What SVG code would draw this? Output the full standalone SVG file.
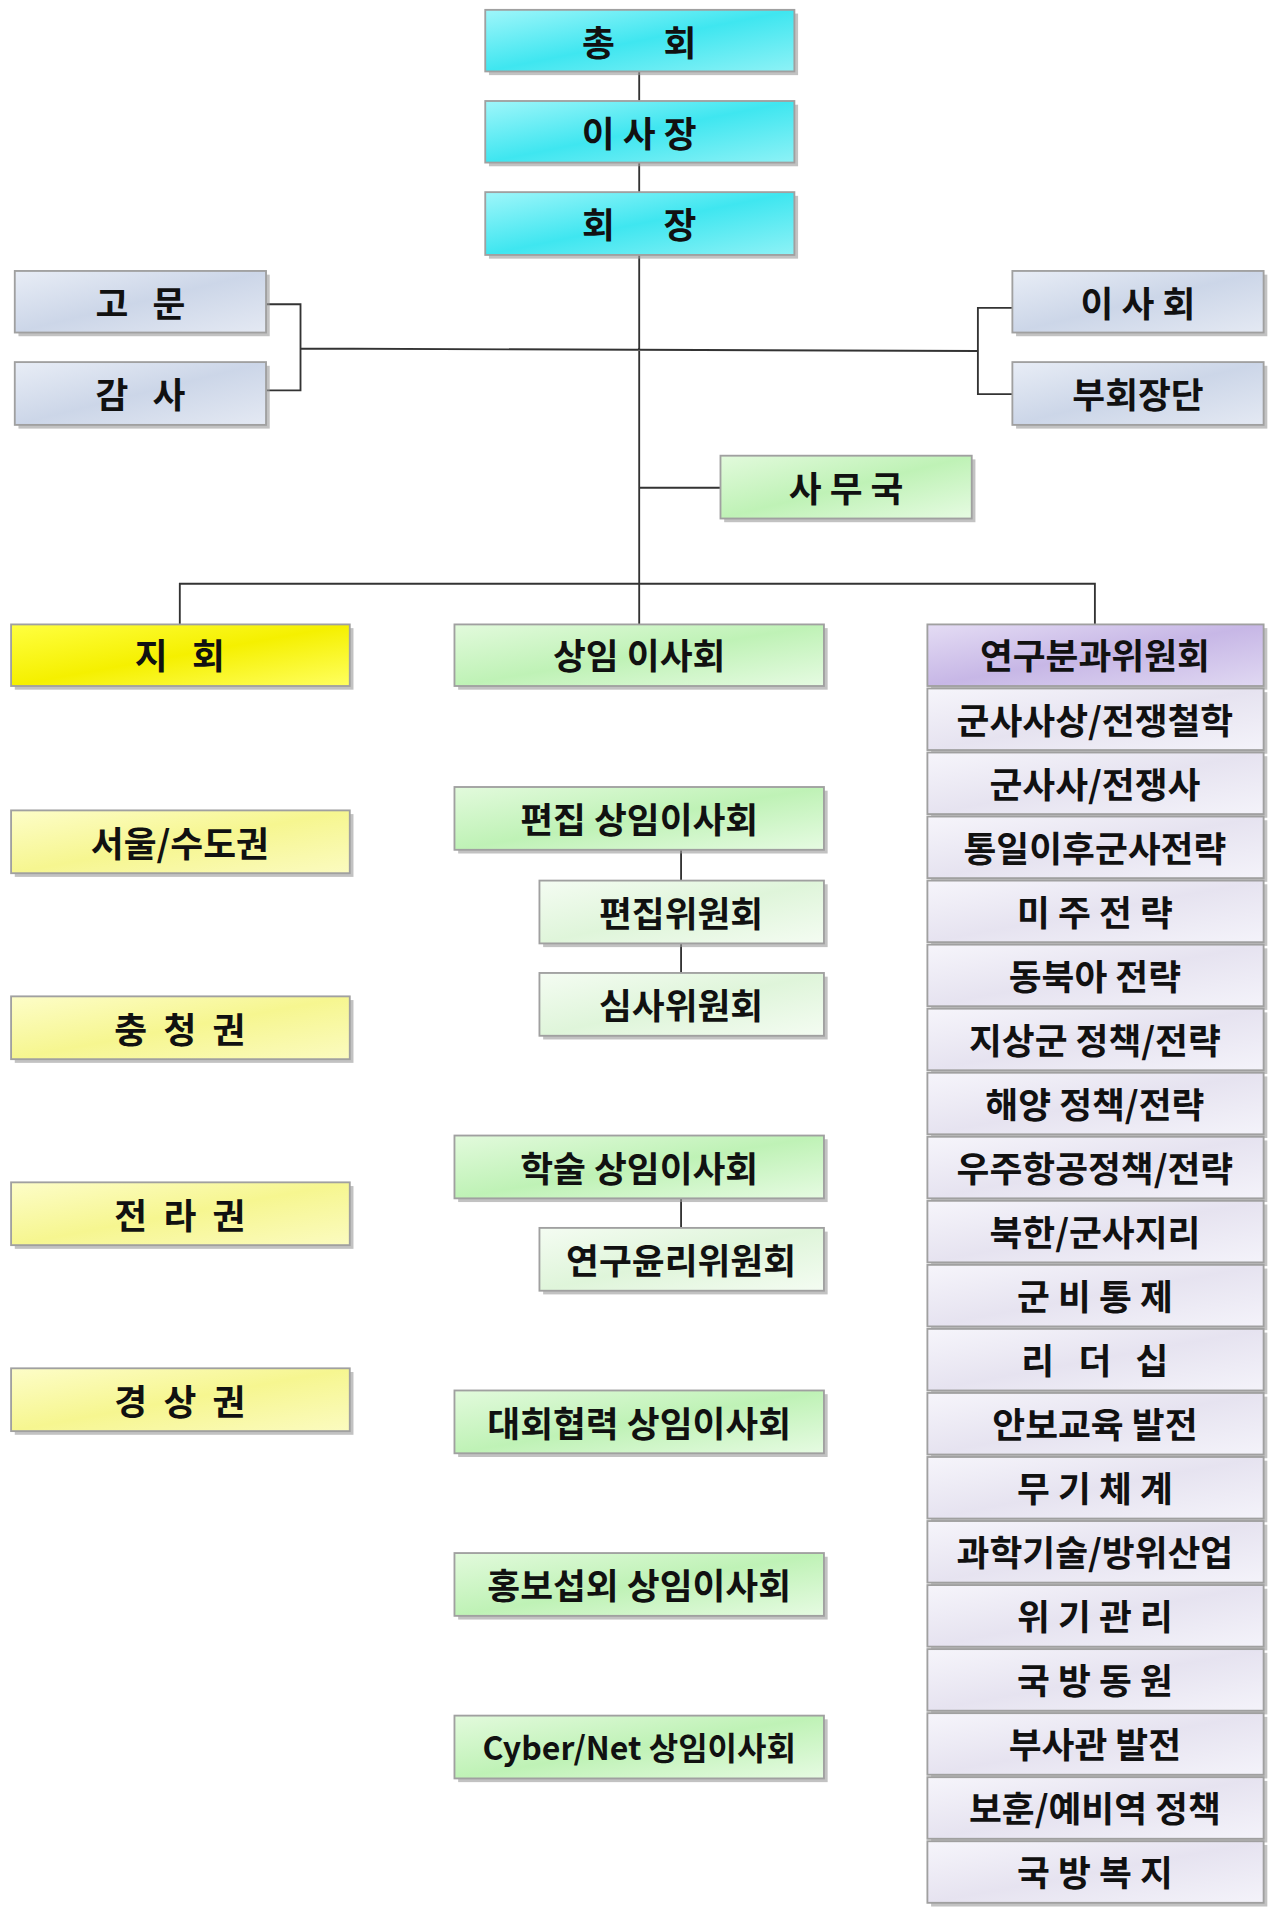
<svg xmlns="http://www.w3.org/2000/svg" width="1271" height="1925" viewBox="0 0 1271 1925">
<defs>
<linearGradient id="cy" x1="0" y1="0" x2="1" y2="1"><stop offset="0" stop-color="#9ff6fa"/><stop offset="0.5" stop-color="#3fe6f0"/><stop offset="1" stop-color="#8ef2f6"/></linearGradient>
<linearGradient id="bg" x1="0" y1="0" x2="1" y2="1"><stop offset="0" stop-color="#e8edf6"/><stop offset="0.5" stop-color="#ccd6e8"/><stop offset="1" stop-color="#e4e9f3"/></linearGradient>
<linearGradient id="gr" x1="0" y1="0" x2="1" y2="1"><stop offset="0" stop-color="#e2fadc"/><stop offset="0.5" stop-color="#bff2b6"/><stop offset="1" stop-color="#e6fbe2"/></linearGradient>
<linearGradient id="lg" x1="0" y1="0" x2="1" y2="1"><stop offset="0" stop-color="#f4fcf2"/><stop offset="0.5" stop-color="#dff5da"/><stop offset="1" stop-color="#f4fcf2"/></linearGradient>
<linearGradient id="ye" x1="0" y1="0" x2="1" y2="1"><stop offset="0" stop-color="#ffff40"/><stop offset="0.5" stop-color="#f5f000"/><stop offset="1" stop-color="#ffff60"/></linearGradient>
<linearGradient id="ly" x1="0" y1="0" x2="1" y2="1"><stop offset="0" stop-color="#fdfdc8"/><stop offset="0.5" stop-color="#f6f690"/><stop offset="1" stop-color="#fbfbc0"/></linearGradient>
<linearGradient id="pu" x1="0" y1="0" x2="1" y2="1"><stop offset="0" stop-color="#e4dcf4"/><stop offset="0.5" stop-color="#c7b7e6"/><stop offset="1" stop-color="#e0d8f2"/></linearGradient>
<linearGradient id="la" x1="0" y1="0" x2="1" y2="1"><stop offset="0" stop-color="#f6f5fb"/><stop offset="0.5" stop-color="#e6e3f0"/><stop offset="1" stop-color="#f4f3fa"/></linearGradient>
</defs>
<style>
.b{stroke:#a0a0a0;stroke-width:1.5}
.s{fill:#9a9a9a;opacity:0.6}
text{font-family:"Noto Sans CJK KR","Noto Sans",sans-serif;font-weight:bold;font-size:29px;fill:#111;text-anchor:middle;dominant-baseline:central}
.c{stroke:#333;stroke-width:1.5;fill:none}
</style>
<g transform="scale(1.2316)">
<g id="connectors">
<path class="c" d="M519 58V82M519 132V156M519 207V507M216 247H244V317H216M244 283L794 285M822 250H794V320H822M519 396H585M146 507V474H889V507M553 690V790M553 973V997"/>
</g>
<g id="n1"><rect class="s" x="397" y="11" width="251" height="50"/><rect class="b" x="394" y="8" width="251" height="50" fill="url(#cy)"/><text x="519" y="33">총&#160;&#160;&#160;&#160;&#160;&#160;회</text></g>
<g id="n2"><rect class="s" x="397" y="85" width="251" height="50"/><rect class="b" x="394" y="82" width="251" height="50" fill="url(#cy)"/><text x="519" y="107">이 사 장</text></g>
<g id="n3"><rect class="s" x="397" y="159" width="251" height="51"/><rect class="b" x="394" y="156" width="251" height="51" fill="url(#cy)"/><text x="519" y="181">회&#160;&#160;&#160;&#160;&#160;&#160;장</text></g>
<g id="n4"><rect class="s" x="15" y="223" width="204" height="50"/><rect class="b" x="12" y="220" width="204" height="50" fill="url(#bg)"/><text x="114" y="245">고&#160;&#160;&#160;문</text></g>
<g id="n5"><rect class="s" x="15" y="297" width="204" height="51"/><rect class="b" x="12" y="294" width="204" height="51" fill="url(#bg)"/><text x="114" y="319">감&#160;&#160;&#160;사</text></g>
<g id="n6"><rect class="s" x="825" y="223" width="204" height="50"/><rect class="b" x="822" y="220" width="204" height="50" fill="url(#bg)"/><text x="924" y="245">이 사 회</text></g>
<g id="n7"><rect class="s" x="825" y="297" width="204" height="51"/><rect class="b" x="822" y="294" width="204" height="51" fill="url(#bg)"/><text x="924" y="319">부회장단</text></g>
<g id="n8"><rect class="s" x="588" y="373" width="204" height="51"/><rect class="b" x="585" y="370" width="204" height="51" fill="url(#gr)"/><text x="687" y="395">사 무 국</text></g>
<g id="n9"><rect class="s" x="12" y="510" width="275" height="50"/><rect class="b" x="9" y="507" width="275" height="50" fill="url(#ye)"/><text x="146" y="531">지&#160;&#160;&#160;회</text></g>
<g id="n10"><rect class="s" x="12" y="661" width="275" height="51"/><rect class="b" x="9" y="658" width="275" height="51" fill="url(#ly)"/><text x="146" y="683">서울/수도권</text></g>
<g id="n11"><rect class="s" x="12" y="812" width="275" height="51"/><rect class="b" x="9" y="809" width="275" height="51" fill="url(#ly)"/><text x="146" y="834">충&#160;&#160;청&#160;&#160;권</text></g>
<g id="n12"><rect class="s" x="12" y="963" width="275" height="51"/><rect class="b" x="9" y="960" width="275" height="51" fill="url(#ly)"/><text x="146" y="985">전&#160;&#160;라&#160;&#160;권</text></g>
<g id="n13"><rect class="s" x="12" y="1114" width="275" height="51"/><rect class="b" x="9" y="1111" width="275" height="51" fill="url(#ly)"/><text x="146" y="1136">경&#160;&#160;상&#160;&#160;권</text></g>
<g id="n14"><rect class="s" x="372" y="510" width="300" height="50"/><rect class="b" x="369" y="507" width="300" height="50" fill="url(#gr)"/><text x="519" y="531">상임 이사회</text></g>
<g id="n15"><rect class="s" x="372" y="642" width="300" height="51"/><rect class="b" x="369" y="639" width="300" height="51" fill="url(#gr)"/><text x="519" y="664">편집 상임이사회</text></g>
<g id="n16"><rect class="s" x="441" y="718" width="231" height="51"/><rect class="b" x="438" y="715" width="231" height="51" fill="url(#lg)"/><text x="553" y="740">편집위원회</text></g>
<g id="n17"><rect class="s" x="441" y="793" width="231" height="51"/><rect class="b" x="438" y="790" width="231" height="51" fill="url(#lg)"/><text x="553" y="815">심사위원회</text></g>
<g id="n18"><rect class="s" x="372" y="925" width="300" height="51"/><rect class="b" x="369" y="922" width="300" height="51" fill="url(#gr)"/><text x="519" y="947">학술 상임이사회</text></g>
<g id="n19"><rect class="s" x="441" y="1000" width="231" height="51"/><rect class="b" x="438" y="997" width="231" height="51" fill="url(#lg)"/><text x="553" y="1022">연구윤리위원회</text></g>
<g id="n20"><rect class="s" x="372" y="1132" width="300" height="51"/><rect class="b" x="369" y="1129" width="300" height="51" fill="url(#gr)"/><text x="519" y="1154">대회협력 상임이사회</text></g>
<g id="n21"><rect class="s" x="372" y="1264" width="300" height="51"/><rect class="b" x="369" y="1261" width="300" height="51" fill="url(#gr)"/><text x="519" y="1286">홍보섭외 상임이사회</text></g>
<g id="n22"><rect class="s" x="372" y="1396" width="300" height="51"/><rect class="b" x="369" y="1393" width="300" height="51" fill="url(#gr)"/><text x="519" y="1418" style="font-size:26px">Cyber/Net 상임이사회</text></g>
<g id="r0"><rect class="s" x="756" y="510" width="273" height="50"/><rect class="b" x="753" y="507" width="273" height="50" fill="url(#pu)"/><text x="889" y="531">연구분과위원회</text></g>
<g id="r1"><rect class="s" x="756" y="562" width="273" height="50"/><rect class="b" x="753" y="559" width="273" height="50" fill="url(#la)"/><text x="889" y="583">군사사상/전쟁철학</text></g>
<g id="r2"><rect class="s" x="756" y="614" width="273" height="50"/><rect class="b" x="753" y="611" width="273" height="50" fill="url(#la)"/><text x="889" y="635">군사사/전쟁사</text></g>
<g id="r3"><rect class="s" x="756" y="666" width="273" height="50"/><rect class="b" x="753" y="663" width="273" height="50" fill="url(#la)"/><text x="889" y="687">통일이후군사전략</text></g>
<g id="r4"><rect class="s" x="756" y="718" width="273" height="50"/><rect class="b" x="753" y="715" width="273" height="50" fill="url(#la)"/><text x="889" y="739">미 주 전 략</text></g>
<g id="r5"><rect class="s" x="756" y="770" width="273" height="50"/><rect class="b" x="753" y="767" width="273" height="50" fill="url(#la)"/><text x="889" y="791">동북아 전략</text></g>
<g id="r6"><rect class="s" x="756" y="822" width="273" height="50"/><rect class="b" x="753" y="819" width="273" height="50" fill="url(#la)"/><text x="889" y="843">지상군 정책/전략</text></g>
<g id="r7"><rect class="s" x="756" y="874" width="273" height="50"/><rect class="b" x="753" y="871" width="273" height="50" fill="url(#la)"/><text x="889" y="895">해양 정책/전략</text></g>
<g id="r8"><rect class="s" x="756" y="926" width="273" height="50"/><rect class="b" x="753" y="923" width="273" height="50" fill="url(#la)"/><text x="889" y="947">우주항공정책/전략</text></g>
<g id="r9"><rect class="s" x="756" y="978" width="273" height="50"/><rect class="b" x="753" y="975" width="273" height="50" fill="url(#la)"/><text x="889" y="999">북한/군사지리</text></g>
<g id="r10"><rect class="s" x="756" y="1030" width="273" height="50"/><rect class="b" x="753" y="1027" width="273" height="50" fill="url(#la)"/><text x="889" y="1051">군 비 통 제</text></g>
<g id="r11"><rect class="s" x="756" y="1082" width="273" height="50"/><rect class="b" x="753" y="1079" width="273" height="50" fill="url(#la)"/><text x="889" y="1103">리&#160;&#160;&#160;더&#160;&#160;&#160;십</text></g>
<g id="r12"><rect class="s" x="756" y="1134" width="273" height="50"/><rect class="b" x="753" y="1131" width="273" height="50" fill="url(#la)"/><text x="889" y="1155">안보교육 발전</text></g>
<g id="r13"><rect class="s" x="756" y="1186" width="273" height="50"/><rect class="b" x="753" y="1183" width="273" height="50" fill="url(#la)"/><text x="889" y="1207">무 기 체 계</text></g>
<g id="r14"><rect class="s" x="756" y="1238" width="273" height="50"/><rect class="b" x="753" y="1235" width="273" height="50" fill="url(#la)"/><text x="889" y="1259">과학기술/방위산업</text></g>
<g id="r15"><rect class="s" x="756" y="1290" width="273" height="50"/><rect class="b" x="753" y="1287" width="273" height="50" fill="url(#la)"/><text x="889" y="1311">위 기 관 리</text></g>
<g id="r16"><rect class="s" x="756" y="1342" width="273" height="50"/><rect class="b" x="753" y="1339" width="273" height="50" fill="url(#la)"/><text x="889" y="1363">국 방 동 원</text></g>
<g id="r17"><rect class="s" x="756" y="1394" width="273" height="50"/><rect class="b" x="753" y="1391" width="273" height="50" fill="url(#la)"/><text x="889" y="1415">부사관 발전</text></g>
<g id="r18"><rect class="s" x="756" y="1446" width="273" height="50"/><rect class="b" x="753" y="1443" width="273" height="50" fill="url(#la)"/><text x="889" y="1467">보훈/예비역 정책</text></g>
<g id="r19"><rect class="s" x="756" y="1498" width="273" height="50"/><rect class="b" x="753" y="1495" width="273" height="50" fill="url(#la)"/><text x="889" y="1519">국 방 복 지</text></g>
</g>
</svg>
